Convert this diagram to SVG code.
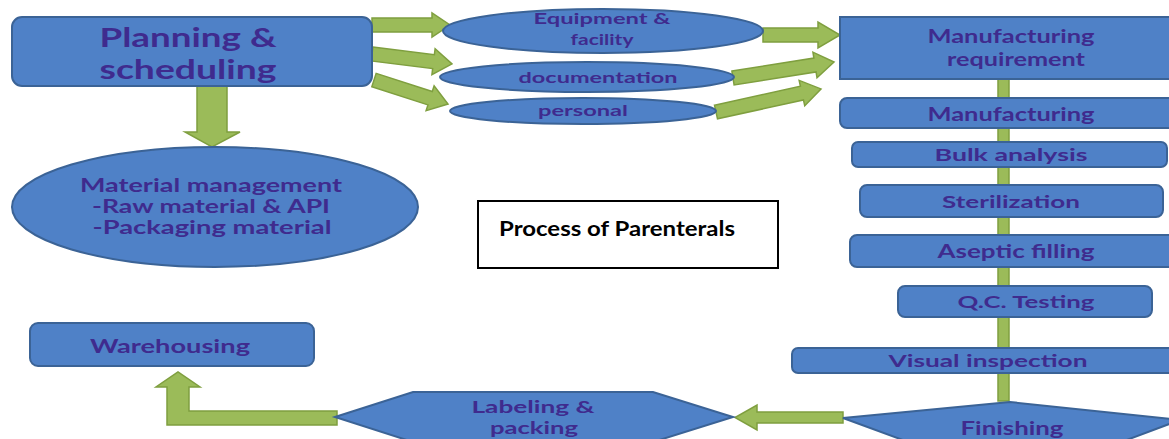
<svg xmlns="http://www.w3.org/2000/svg" width="1169" height="439" viewBox="0 0 1169 439">
<defs>
<style>
.n{fill:#4f81c7;stroke:#3b6396;stroke-width:2}
.a{fill:#9bbb59;stroke:#7f9f3f;stroke-width:1.5}
.t{font-family:Lato,"Open Sans","DejaVu Sans",sans-serif;font-weight:bold;fill:#3f2b8e;text-anchor:middle}
.title{font-family:Lato,"Liberation Sans",Arial,sans-serif;font-weight:bold;fill:#000}
</style>
</defs>
<rect width="1169" height="439" fill="#fff"/>
<g id="connectors">
<polygon class="a" points="372,18 432,18 432,13 450,25 432,37 432,32 372,32"/>
<polygon class="a" transform="translate(372,54) rotate(7.1)" points="0,-7 62,-7 62,-13 80.6,0 62,13 62,7 0,7"/>
<polygon class="a" transform="translate(374,80) rotate(18)" points="0,-7 59,-7 59,-13 77.8,0 59,13 59,7 0,7"/>
<polygon class="a" points="763,28 818,28 818,22 840,35 818,48 818,42 763,42"/>
<polygon class="a" transform="translate(733,78) rotate(-9)" points="0,-7 83,-7 83,-13 102.3,0 83,13 83,7 0,7"/>
<polygon class="a" transform="translate(716,112) rotate(-12.4)" points="0,-7 88,-7 88,-13 107.5,0 88,13 88,7 0,7"/>
<polygon class="a" points="197,86 227,86 227,132 240,132 212,147 185,132 197,132"/>
<rect class="a" x="998" y="79" width="11" height="19"/>
<rect class="a" x="998" y="128" width="11" height="14"/>
<rect class="a" x="998" y="167" width="11" height="18"/>
<rect class="a" x="998" y="217" width="11" height="18"/>
<rect class="a" x="998" y="267" width="11" height="19"/>
<rect class="a" x="998" y="317" width="11" height="31"/>
<rect class="a" x="998" y="373" width="11" height="28"/>
<polygon class="a" points="843,412 757,412 757,405 735,417.5 757,430 757,423 843,423"/>
<polygon class="a" points="337,411 189,411 189,387 200,387 178,372 156,387 167,387 167,425 337,425"/>
</g>
<g id="planning">
<rect class="n" x="12" y="17" width="360" height="69" rx="10"/>
<text class="t" x="188" y="47" font-size="26" textLength="177" lengthAdjust="spacingAndGlyphs">Planning &amp;</text>
<text class="t" x="188" y="79" font-size="26" textLength="177" lengthAdjust="spacingAndGlyphs">scheduling</text>
</g>
<g id="material">
<ellipse class="n" cx="215" cy="207" rx="203" ry="60"/>
<text class="t" x="211" y="192" font-size="18" textLength="262" lengthAdjust="spacingAndGlyphs">Material management</text>
<text class="t" x="211" y="213" font-size="18" textLength="238" lengthAdjust="spacingAndGlyphs">-Raw material &amp; API</text>
<text class="t" x="212" y="234" font-size="18" textLength="239" lengthAdjust="spacingAndGlyphs">-Packaging material</text>
</g>
<g id="warehousing">
<rect class="n" x="30" y="323" width="284" height="43" rx="8"/>
<text class="t" x="170" y="353" font-size="18" textLength="160" lengthAdjust="spacingAndGlyphs">Warehousing</text>
</g>
<g id="equipment">
<ellipse class="n" cx="603" cy="31" rx="160" ry="22"/>
<text class="t" x="602" y="24" font-size="15" textLength="137" lengthAdjust="spacingAndGlyphs">Equipment &amp;</text>
<text class="t" x="602" y="45" font-size="15" textLength="63" lengthAdjust="spacingAndGlyphs">facility</text>
</g>
<g id="documentation">
<ellipse class="n" cx="587" cy="77" rx="147" ry="15"/>
<text class="t" x="598" y="83" font-size="16" textLength="159" lengthAdjust="spacingAndGlyphs">documentation</text>
</g>
<g id="personal">
<ellipse class="n" cx="583" cy="111" rx="133" ry="13"/>
<text class="t" x="583" y="116" font-size="15" textLength="90" lengthAdjust="spacingAndGlyphs">personal</text>
</g>
<g id="mfg-req">
<rect class="n" x="840" y="17" width="335" height="62"/>
<text class="t" x="1011" y="43" font-size="18" textLength="167" lengthAdjust="spacingAndGlyphs">Manufacturing</text>
<text class="t" x="1016" y="66" font-size="18" textLength="138" lengthAdjust="spacingAndGlyphs">requirement</text>
</g>
<g id="mfg">
<rect class="n" x="840" y="98" width="340" height="30" rx="7"/>
<text class="t" x="1011" y="121" font-size="18" textLength="167" lengthAdjust="spacingAndGlyphs">Manufacturing</text>
</g>
<g id="bulk">
<rect class="n" x="852" y="142" width="315" height="25" rx="6"/>
<text class="t" x="1011" y="161" font-size="17" textLength="153" lengthAdjust="spacingAndGlyphs">Bulk analysis</text>
</g>
<g id="sterilization">
<rect class="n" x="860" y="185" width="303" height="32" rx="7"/>
<text class="t" x="1011" y="208" font-size="17" textLength="138" lengthAdjust="spacingAndGlyphs">Sterilization</text>
</g>
<g id="aseptic">
<rect class="n" x="850" y="235" width="330" height="32" rx="7"/>
<text class="t" x="1016" y="258" font-size="18" textLength="157" lengthAdjust="spacingAndGlyphs">Aseptic filling</text>
</g>
<g id="qc">
<rect class="n" x="898" y="286" width="254" height="31" rx="7"/>
<text class="t" x="1026" y="308" font-size="17" textLength="137" lengthAdjust="spacingAndGlyphs">Q.C. Testing</text>
</g>
<g id="visual">
<rect class="n" x="792" y="348" width="390" height="25" rx="6"/>
<text class="t" x="988" y="367" font-size="17" textLength="199" lengthAdjust="spacingAndGlyphs">Visual inspection</text>
</g>
<g id="finishing">
<polygon class="n" points="843,418 1010,402 1180,420 1100,450 930,450"/>
<text class="t" x="1012" y="435" font-size="18" textLength="103" lengthAdjust="spacingAndGlyphs">Finishing</text>
</g>
<g id="labeling">
<polygon class="n" points="335,417 413,392 653,392 733,417 653,442 413,442"/>
<text class="t" x="533" y="413" font-size="17" textLength="123" lengthAdjust="spacingAndGlyphs">Labeling &amp;</text>
<text class="t" x="534" y="434" font-size="17" textLength="88" lengthAdjust="spacingAndGlyphs">packing</text>
</g>
<g id="title">
<rect x="478" y="201" width="300" height="67" fill="#fff" stroke="#000" stroke-width="2"/>
<text class="title" x="499" y="236" font-size="21" textLength="236" lengthAdjust="spacingAndGlyphs">Process of Parenterals</text>
</g>
</svg>
